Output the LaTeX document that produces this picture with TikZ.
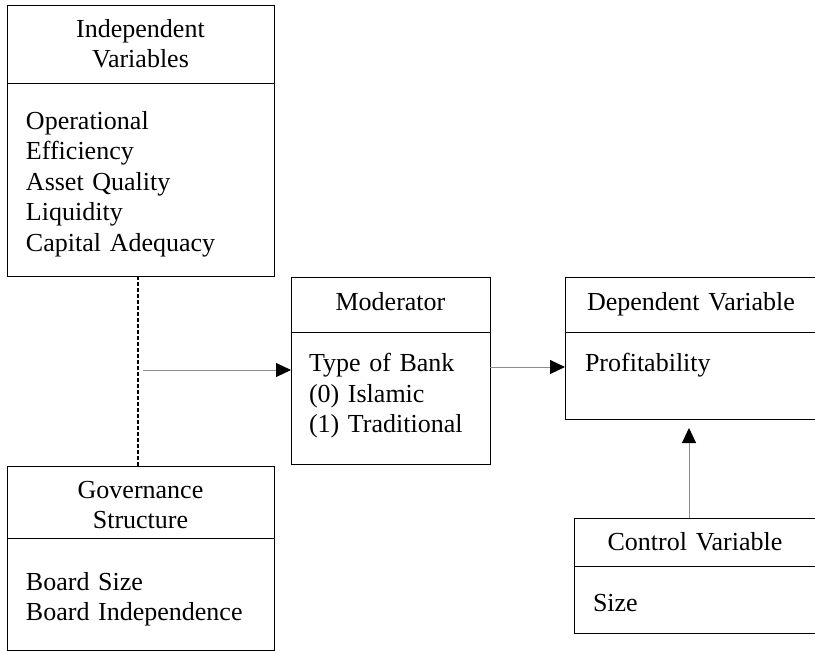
\documentclass[tikz,border=0pt]{standalone}
\usepackage{fontspec}
\setmainfont{Liberation Serif}
\usetikzlibrary{arrows.meta,positioning}

\begin{document}
\begin{tikzpicture}[x=1pt,y=-1pt,
        every node/.style={font=\fontsize{26}{30.5}\selectfont, outer sep=0pt},
        head/.style={draw, line width=1pt, anchor=north west, inner xsep=0pt, inner ysep=0pt, align=center},
        body/.style={draw, line width=1pt, anchor=north west, inner xsep=19pt, inner ysep=0pt, align=left},
        conn/.style={draw=black!45, line width=1pt, -{Triangle[length=15pt,width=14pt,color=black]}},
        link/.style={line width=1.2pt, dash pattern=on 4pt off 2pt}]

                \useasboundingbox (0,0) rectangle (815,651);

                % independent variables
                \node[head, text width=267pt, text height=32.3pt, text depth=45.7pt] (ivhead) at (7,5) {Independent\\Variables};
                \node[body, text width=229pt, text height=46.3pt, text depth=146.7pt] (ivbody) at (ivhead.south west)
                    {Operational\\Efficiency\\Asset Quality\\Liquidity\\Capital Adequacy};

                % governance
                \node[head, text width=267pt, text height=32pt, text depth=40pt] (govhead) at (7,466) {Governance\\Structure};
                \node[body, text width=229pt, text height=52pt, text depth=60pt] (govbody) at (govhead.south west)
                    {Board Size\\Board Independence};

                % moderator
                \node[head, text width=199pt, text height=33.7pt, text depth=21.3pt] (modhead) at (291,277) {Moderator};
                \node[body, inner xsep=18pt, text width=163pt, text height=39.7pt, text depth=92.3pt] (modbody) at (modhead.south west)
                    {Type of Bank\\(0) Islamic\\(1) Traditional};

                % dependent
                \node[head, text width=252pt, text height=33.7pt, text depth=21.3pt] (dephead) at (565,277) {Dependent Variable};
                \node[body, inner xsep=20pt, text width=212pt, text height=39.7pt, text depth=47.3pt] (depbody) at (dephead.south west)
                    {Profitability};

                % control
                \node[head, text width=242pt, text height=32.7pt, text depth=15.3pt] (ctlhead) at (574,518) {Control Variable};
                \node[body, text width=204pt, text height=45.7pt, text depth=21.3pt] (ctlbody) at (ctlhead.south west)
                    {Size};

                \coordinate (join) at (143,370);

                \draw[link] ([xshift=-2.5pt]ivbody.south) -- ([xshift=-2.5pt]govhead.north);
                \draw[conn] (join) -- (join -| modbody.west);
                \draw[conn] ([yshift=31pt]modbody.east) -- ([yshift=31pt]modbody.east -| depbody.west);
                \draw[conn, shorten >=9pt] ([xshift=-6pt]ctlhead.north) -- ([xshift=-6pt]ctlhead.north |- depbody.south);
            \end{tikzpicture}
\end{document}
